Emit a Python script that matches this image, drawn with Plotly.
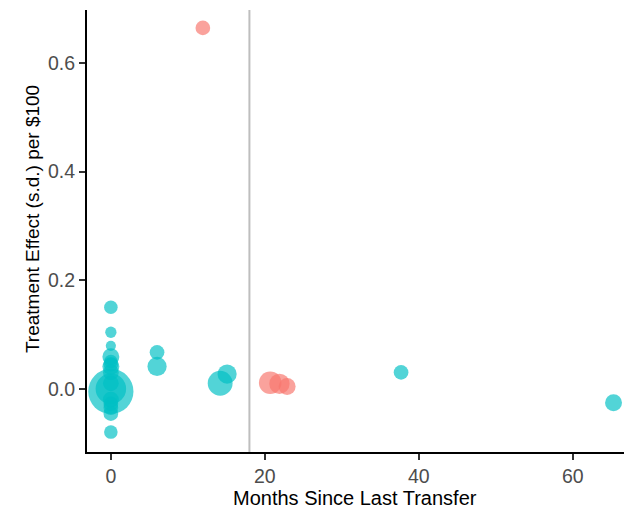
import math
import plotly.graph_objects as go

# Teal series (group A)
teal_months = [0, 0, 0, 0, 0, 0, 0, 0, 0, 0, 0, 0, 0, 0, 0, 0,
               6, 6, 14.2, 15.1, 37.7, 65.3]
teal_effect = [0.150, 0.104, 0.079, 0.059, 0.050, 0.045, 0.041, 0.030,
               0.010, 0.000, -0.005, -0.020, -0.028, -0.035, -0.046, -0.080,
               0.067, 0.041, 0.010, 0.027, 0.030, -0.026]
teal_weight = [1.44, 1.00, 0.81, 2.25, 1.44, 1.69, 2.25, 1.96,
               1.96, 7.29, 16.0, 1.96, 1.69, 1.69, 1.69, 1.44,
               1.69, 2.89, 4.84, 2.89, 1.69, 2.25]

# Red series (group B)
red_months = [11.95, 20.7, 21.9, 22.9]
red_effect = [0.665, 0.011, 0.009, 0.004]
red_weight = [1.69, 4.00, 3.24, 2.25]

cutoff_month = 18

x_ticks = [0, 20, 40, 60]
y_ticks = [0.0, 0.2, 0.4, 0.6]
x_title = "Months Since Last Transfer"
y_title = "Treatment Effect (s.d.) per $100"


def point_diameter(weights):
    # area proportional to weight (like ggplot's scale_size)
    return [11.3 * math.sqrt(w) for w in weights]


fig = go.Figure()
fig.add_trace(go.Scatter(
    x=teal_months, y=teal_effect, mode="markers",
    marker=dict(size=point_diameter(teal_weight), sizemode="diameter",
                color="#00BFC4", opacity=0.68, line=dict(width=0)),
    showlegend=False, hoverinfo="x+y"))
fig.add_trace(go.Scatter(
    x=red_months, y=red_effect, mode="markers",
    marker=dict(size=point_diameter(red_weight), sizemode="diameter",
                color="#F8766D", opacity=0.68, line=dict(width=0)),
    showlegend=False, hoverinfo="x+y"))

fig.add_shape(type="line", xref="x", yref="paper", x0=cutoff_month, x1=cutoff_month,
              y0=0, y1=1, line=dict(color="#BEBEBE", width=2), layer="below")

font_family = "Liberation Sans, Arial, sans-serif"

fig.add_annotation(text=x_title, xref="paper", yref="paper", x=0.492, y=0,
                   xanchor="center", yanchor="middle", yshift=-46, showarrow=False,
                   font=dict(size=20, color="black", family=font_family))
fig.add_annotation(text=y_title, xref="paper", yref="paper", x=0, y=0.527,
                   xanchor="center", yanchor="middle", xshift=-55, textangle=-90,
                   showarrow=False,
                   font=dict(size=19, color="black", family=font_family))

# page body has an 8px margin: figure sized so the plot area lands at
# x 87..632 and y 10..452 of the window
fig.update_layout(
    width=624, height=506,
    margin=dict(l=79, r=0, t=2, b=62, autoexpand=False),
    paper_bgcolor="white", plot_bgcolor="white",
    font=dict(family=font_family, color="black"),
    xaxis=dict(range=[-3.1, 67.7], tickvals=x_ticks,
               showgrid=False, zeroline=False, automargin=False,
               showline=True, linecolor="black", linewidth=2,
               ticks="outside", ticklen=6, tickwidth=2, tickcolor="#333333",
               tickfont=dict(size=19.5, color="#4D4D4D", family=font_family)),
    yaxis=dict(range=[-0.1167, 0.698], tickvals=y_ticks,
               tickformat=".1f",
               showgrid=False, zeroline=False, automargin=False,
               showline=True, linecolor="black", linewidth=2,
               ticks="outside", ticklen=6, tickwidth=2, tickcolor="#333333",
               tickfont=dict(size=19.5, color="#4D4D4D", family=font_family)),
)

fig.write_html("out.html")
